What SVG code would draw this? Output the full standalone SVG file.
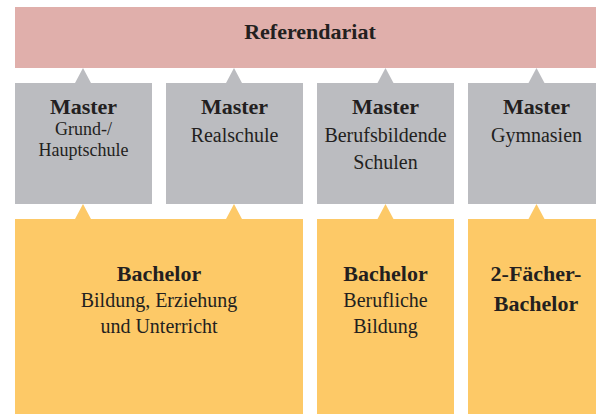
<svg xmlns="http://www.w3.org/2000/svg" width="596" height="414" viewBox="0 0 596 414">
<style>
.pink{fill:#E0AFAB}
.gray{fill:#BBBCC0}
.yel{fill:#FDC967}
.t{font-family:"Liberation Serif","DejaVu Serif",serif;fill:#231F20;text-anchor:middle}
.b{font-weight:bold;font-size:22px}
.r{font-size:20px}
.s{font-size:18px}
</style>
<rect width="596" height="414" fill="#FFFFFF"/>
<g id="connectors">
<polygon class="gray" points="75,83 83,68 91,83"/>
<polygon class="gray" points="226,83 234,68 242,83"/>
<polygon class="gray" points="377.5,83 385.5,68 393.5,83"/>
<polygon class="gray" points="528.5,83 536.5,68 544.5,83"/>
<polygon class="yel" points="75,219 83,204 91,219"/>
<polygon class="yel" points="226,219 234,204 242,219"/>
<polygon class="yel" points="377.5,219 385.5,204 393.5,219"/>
<polygon class="yel" points="528.5,219 536.5,204 544.5,219"/>
</g>
<g id="referendariat">
<rect class="pink" x="15" y="7" width="590" height="61"/>
<text class="t b" x="310" y="39">Referendariat</text>
</g>
<g id="master-gh">
<rect class="gray" x="15" y="83" width="137" height="121"/>
<text class="t b" x="83.5" y="114">Master</text>
<text class="t s" x="83.5" y="135">Grund-/</text>
<text class="t s" x="83.5" y="155.5">Hauptschule</text>
</g>
<g id="master-rs">
<rect class="gray" x="166" y="83" width="137" height="121"/>
<text class="t b" x="234.5" y="114">Master</text>
<text class="t r" x="234.5" y="142">Realschule</text>
</g>
<g id="master-bbs">
<rect class="gray" x="317" y="83" width="137" height="121"/>
<text class="t b" x="385.5" y="114">Master</text>
<text class="t r" x="385.5" y="142">Berufsbildende</text>
<text class="t r" x="385.5" y="169">Schulen</text>
</g>
<g id="master-gym">
<rect class="gray" x="468" y="83" width="137" height="121"/>
<text class="t b" x="536.5" y="114">Master</text>
<text class="t r" x="536.5" y="142">Gymnasien</text>
</g>
<g id="bachelor-beu">
<rect class="yel" x="15" y="219" width="288" height="195"/>
<text class="t b" x="159" y="281">Bachelor</text>
<text class="t r" x="159" y="307">Bildung, Erziehung</text>
<text class="t r" x="159" y="333">und Unterricht</text>
</g>
<g id="bachelor-bb">
<rect class="yel" x="317" y="219" width="137" height="195"/>
<text class="t b" x="385.5" y="281">Bachelor</text>
<text class="t r" x="385.5" y="307">Berufliche</text>
<text class="t r" x="385.5" y="333">Bildung</text>
</g>
<g id="bachelor-2f">
<rect class="yel" x="468" y="219" width="137" height="195"/>
<text class="t b" x="536" y="281">2-Fächer-</text>
<text class="t b" x="536" y="311">Bachelor</text>
</g>
</svg>
